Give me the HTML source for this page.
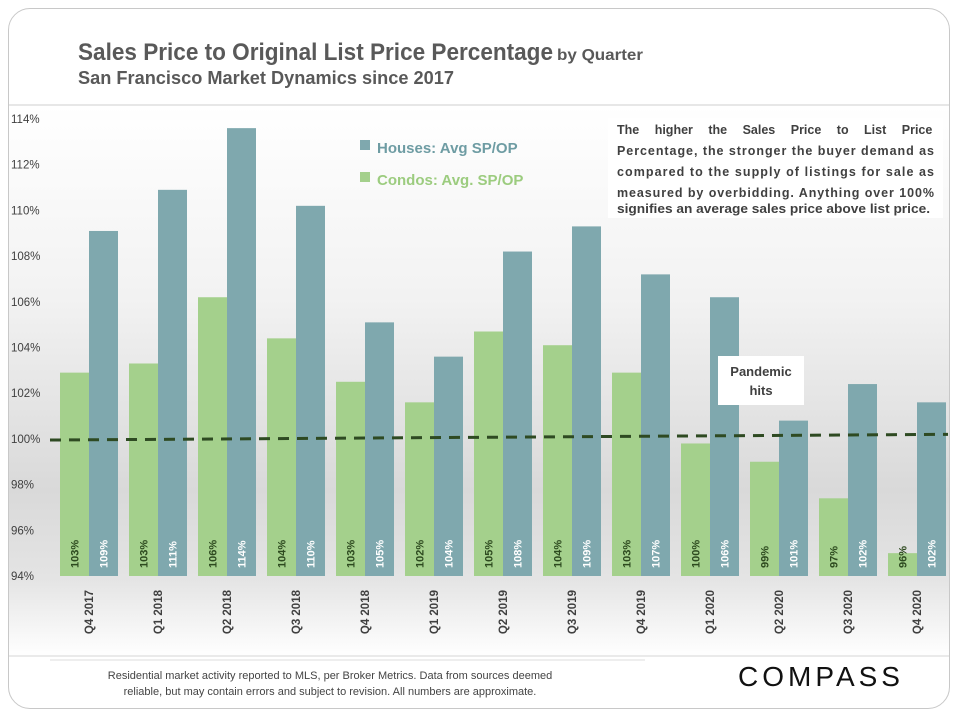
<!DOCTYPE html>
<html><head><meta charset="utf-8"><style>
body{margin:0;width:960px;height:720px;background:#fff;overflow:hidden;font-family:"Liberation Sans",sans-serif}
#card{position:absolute;left:8px;top:8px;width:942px;height:701px;border:1px solid #c8c8c8;border-radius:22px;box-sizing:border-box;overflow:hidden}
</style></head><body>
<div id="card"></div>
<svg id="chart" width="960" height="720" style="position:absolute;left:0;top:0">
<defs>
<linearGradient id="bg" x1="0" y1="0" x2="0" y2="1">
<stop offset="0" stop-color="#ffffff"/><stop offset="0.35" stop-color="#f2f2f2"/><stop offset="0.7" stop-color="#d9d9d9"/><stop offset="0.86" stop-color="#e4e4e4"/><stop offset="1" stop-color="#ffffff"/>
</linearGradient>
</defs>
<rect x="9" y="105" width="940" height="551" fill="url(#bg)"/>
<line x1="9" y1="105" x2="949" y2="105" stroke="#cfcfcf"/>
<line x1="9" y1="656" x2="949" y2="656" stroke="#d5d5d5"/>
<line x1="50" y1="660" x2="645" y2="660" stroke="#ddd"/>
<text x="78" y="60" font-size="24" font-weight="bold" fill="#595959" textLength="475" lengthAdjust="spacingAndGlyphs">Sales Price to Original List Price Percentage</text>
<text x="557" y="60" font-size="16" font-weight="bold" fill="#595959" textLength="86" lengthAdjust="spacingAndGlyphs">by Quarter</text>
<text x="78" y="84" font-size="18" font-weight="bold" fill="#595959" textLength="376" lengthAdjust="spacingAndGlyphs">San Francisco Market Dynamics since 2017</text>
<g id="yaxis"></g><g id="bars"></g><g id="xaxis"></g>
<line id="trend" stroke="#2e4a22" stroke-width="3" stroke-dasharray="11,8"/>
<rect x="360" y="140" width="10" height="10" fill="#7fa8ae"/>
<text x="377" y="153" font-size="15" font-weight="bold" fill="#6e9ca3">Houses: Avg SP/OP</text>
<rect x="360" y="172" width="10" height="10" fill="#a4d08c"/>
<text x="377" y="185" font-size="15" font-weight="bold" fill="#9ccc7f">Condos: Avg. SP/OP</text>
<g>
<rect x="608" y="118" width="335" height="100" fill="#fff"/>
<text font-size="12.5" font-weight="bold" fill="#404040">
<tspan x="617" y="134" word-spacing="12">The higher the Sales Price to List Price</tspan>
<tspan x="617" y="155" textLength="317" lengthAdjust="spacing">Percentage, the stronger the buyer demand as</tspan>
<tspan x="617" y="176" textLength="317" lengthAdjust="spacing">compared to the supply of listings for sale as</tspan>
<tspan x="617" y="197" textLength="317" lengthAdjust="spacing">measured by overbidding. Anything over 100%</tspan>
<tspan x="617" y="213" textLength="313" lengthAdjust="spacingAndGlyphs">signifies an average sales price above list price.</tspan>
</text></g>
<g>
<rect x="718" y="356" width="86" height="49" fill="#fff"/>
<text x="761" y="376" font-size="13" font-weight="bold" fill="#404040" text-anchor="middle">Pandemic</text>
<text x="761" y="395" font-size="13" font-weight="bold" fill="#404040" text-anchor="middle">hits</text></g>
<text x="330" y="679" font-size="11" fill="#444" text-anchor="middle">Residential market activity reported to MLS, per Broker Metrics. Data from sources deemed</text>
<text x="330" y="695" font-size="11" fill="#444" text-anchor="middle">reliable, but may contain errors and subject to revision. All numbers are approximate.</text>
<text x="821" y="686" font-size="28" fill="#111" text-anchor="middle" letter-spacing="4">COMPASS</text>
</svg>
<script>
const categories=["Q4 2017","Q1 2018","Q2 2018","Q3 2018","Q4 2018","Q1 2019","Q2 2019","Q3 2019","Q4 2019","Q1 2020","Q2 2020","Q3 2020","Q4 2020"];
const housesValues=[109.1,110.9,113.6,110.2,105.1,103.6,108.2,109.3,107.2,106.2,100.8,102.4,101.6];
const condosValues=[102.9,103.3,106.2,104.4,102.5,101.6,104.7,104.1,102.9,99.8,99.0,97.4,95.0];
const housesLabels=["109%","111%","114%","110%","105%","104%","108%","109%","107%","106%","101%","102%","102%"];
const condosLabels=["103%","103%","106%","104%","103%","102%","105%","104%","103%","100%","99%","97%","96%"];
const yTicks=[94,96,98,100,102,104,106,108,110,112,114];
const trendValues=[99.95,100.2];
const NS="http://www.w3.org/2000/svg";
const y=v=>576-(v-94)*22.85;
const gx=i=>60+i*69;
const BW=29;
function mk(t,a,p){const e=document.createElementNS(NS,t);for(const k in a)e.setAttribute(k,a[k]);p.appendChild(e);return e;}
const ya=document.getElementById('yaxis'),bars=document.getElementById('bars'),xa=document.getElementById('xaxis');
yTicks.forEach(v=>{const t=mk('text',{x:11,y:y(v)+4,'font-size':11.5,fill:'#404040'},ya);t.textContent=v+'%';

});
categories.forEach((c,i)=>{
 const x0=gx(i);
 const r1=mk('rect',{x:x0,y:y(condosValues[i]),width:BW,height:576-y(condosValues[i]),fill:'#a4d08c'},bars);
 
 
 const r2=mk('rect',{x:x0+BW,y:y(housesValues[i]),width:BW,height:576-y(housesValues[i]),fill:'#7fa8ae'},bars);
 
 
 const l1=mk('text',{transform:`translate(${x0+BW/2+4},568) rotate(-90)`,'font-size':11,'font-weight':'bold',fill:'#2d4a1f'},bars);
 l1.textContent=condosLabels[i];
 
 
 const l2=mk('text',{transform:`translate(${x0+BW*1.5+4},568) rotate(-90)`,'font-size':11,'font-weight':'bold',fill:'#fff'},bars);
 l2.textContent=housesLabels[i];
 
 
 const xl=mk('text',{transform:`translate(${x0+BW+4},590) rotate(-90)`,'font-size':11.5,'font-weight':'bold',fill:'#404040','text-anchor':'end'},xa);
 xl.textContent=c;
 
 
});
const tr=document.getElementById('trend');
tr.setAttribute('x1',50);tr.setAttribute('y1',y(trendValues[0]));tr.setAttribute('x2',948);tr.setAttribute('y2',y(trendValues[1]));
</script>
</body></html>
